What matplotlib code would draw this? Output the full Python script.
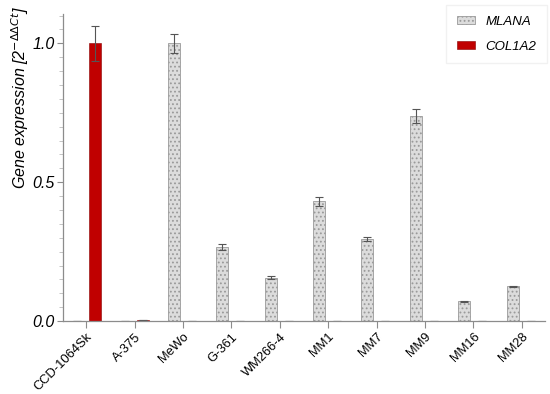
import numpy as np
import matplotlib.pyplot as plt
from matplotlib.ticker import MultipleLocator

plt.rcParams['font.family'] = ['Liberation Sans', 'DejaVu Sans']
plt.rcParams['hatch.linewidth'] = 0.8

# lineas celulares
lineas = ["CCD-1064Sk", "A-375", "MeWo", "G-361", "WM266-4",
          "MM1", "MM7", "MM9", "MM16", "MM28"]

# MLANA (media y error)
mlana = [0.0, 0.0, 1.0, 0.266, 0.157, 0.432, 0.295, 0.738, 0.072, 0.126]
mlana_err = [0.0, 0.0, 0.035, 0.010, 0.005, 0.016, 0.008, 0.025, 0.002, 0.002]

# COL1A2 (media y error)
col1a2 = [1.0, 0.003, 0.002, 0.002, 0.002, 0.0, 0.001, 0.0, 0.0, 0.0]
col1a2_err = [0.063, 0.0, 0.0, 0.0, 0.0, 0.0, 0.0, 0.0, 0.0, 0.0]

x = np.arange(len(lineas))
ancho = 0.25
gris = "#8c8c8c"

fig = plt.figure(figsize=(5.5, 3.94), dpi=100)
ax = fig.add_axes([0.1145, 0.185, 0.8765, 0.779])

ax.bar(x - 0.19, mlana, ancho, yerr=mlana_err, color="#dcdcdc",
       edgecolor="#9a9a9a", hatch="....", linewidth=0.6, label="MLANA",
       error_kw=dict(ecolor="#555555", elinewidth=0.8, capsize=3, capthick=0.8))
ax.bar(x + 0.18, col1a2, ancho, yerr=col1a2_err, color="#c00000",
       edgecolor="#8a0000", linewidth=0.4, label="COL1A2",
       error_kw=dict(ecolor="#555555", elinewidth=0.8, capsize=3, capthick=0.8))

ax.set_xlim(-0.48, 9.48)
ax.set_ylim(0, 1.105)
ax.yaxis.set_minor_locator(MultipleLocator(0.05))
ax.set_xticks(x)
ax.set_xticklabels(lineas, rotation=45, ha="right", rotation_mode="anchor",
                   fontsize=9.3)
ax.set_yticks([0, 0.5, 1.0])
ax.set_yticklabels(["0.0", "0.5", "1.0"], fontsize=11.5, style="italic")

for s in ["top", "right"]:
    ax.spines[s].set_visible(False)
for s in ["left", "bottom"]:
    ax.spines[s].set_color(gris)
    ax.spines[s].set_linewidth(0.9)
ax.tick_params(axis="x", which="major", color=gris, length=5, width=0.8, pad=2)
ax.tick_params(axis="y", which="major", color=gris, length=4, width=0.8, pad=2)
ax.tick_params(axis="y", which="minor", color="#bbbbbb", length=3, width=0.6)

ax.set_ylabel(r"Gene expression [2$^{-\Delta\Delta Ct}$]", fontsize=11.5,
              style="italic")
ax.yaxis.set_label_coords(-0.066, 0.73)

leg = ax.legend(loc="upper right", bbox_to_anchor=(1.004, 1.03),
                borderaxespad=0,
                prop={"style": "italic", "size": 9.5}, frameon=True,
                fancybox=False, edgecolor="#eeeeee", handlelength=1.4,
                handleheight=0.6, labelspacing=1.0, borderpad=0.8,
                handletextpad=0.8)

fig.savefig("out.png", dpi=100)
